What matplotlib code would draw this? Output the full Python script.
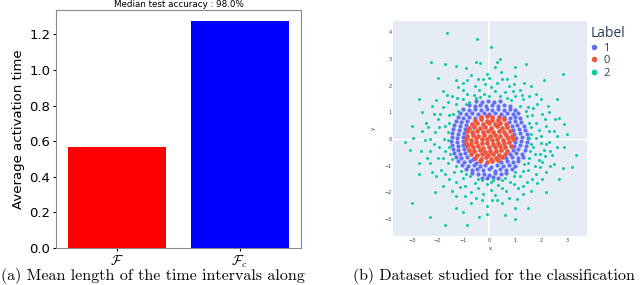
import numpy as np
import matplotlib
matplotlib.use("Agg")
import matplotlib.pyplot as plt

plt.rcParams['mathtext.fontset'] = 'cm'

# ---- left panel data ----
bar_labels = [r'$\mathcal{F}$', r'$\mathcal{F}_c$']
bar_values = [0.565, 1.274]
bar_colors = ['red', 'blue']
acc_title = 'Median test accuracy : 98.0%'

# ---- right panel data ----
red_pts = [
    (-0.35, -0.83), (-0.1, -0.87), (0.12, -0.84), (0.33, -0.8),
    (-0.55, -0.7), (-0.34, -0.75), (-0.12, -0.69), (0.08, -0.74), (0.27, -0.71), (0.5, -0.68),
    (-0.7, -0.56), (-0.48, -0.6), (-0.27, -0.55), (-0.05, -0.61), (0.16, -0.57), (0.38, -0.6), (0.6, -0.55),
    (-0.8, -0.42), (-0.6, -0.46), (-0.38, -0.41), (-0.18, -0.47), (0.04, -0.43), (0.25, -0.45), (0.46, -0.4), (0.68, -0.46),
    (-0.86, -0.27), (-0.65, -0.31), (-0.45, -0.26), (-0.24, -0.32), (-0.02, -0.28), (0.2, -0.3), (0.4, -0.25), (0.62, -0.31), (0.83, -0.27),
    (-0.9, -0.13), (-0.7, -0.17), (-0.5, -0.12), (-0.29, -0.16), (-0.08, -0.14), (0.13, -0.18), (0.34, -0.13), (0.55, -0.16), (0.76, -0.12),
    (-0.92, 0.02), (-0.72, -0.02), (-0.52, 0.03), (-0.3, -0.01), (-0.1, 0.02), (0.1, -0.03), (0.31, 0.01), (0.52, -0.02), (0.73, 0.03), (0.9, -0.01),
    (-0.86, 0.12), (-0.64, 0.16), (-0.42, 0.11), (-0.2, 0.17), (0.02, 0.13), (0.22, 0.15), (0.43, 0.1), (0.64, 0.16), (0.86, 0.13),
    (-0.88, 0.3), (-0.68, 0.26), (-0.47, 0.31), (-0.26, 0.27), (-0.05, 0.32), (0.16, 0.28), (0.37, 0.3), (0.58, 0.26), (0.8, 0.31),
    (-0.8, 0.42), (-0.58, 0.46), (-0.36, 0.41), (-0.15, 0.45), (0.06, 0.43), (0.28, 0.47), (0.49, 0.42), (0.7, 0.45),
    (-0.68, 0.56), (-0.46, 0.6), (-0.24, 0.55), (-0.02, 0.59), (0.2, 0.57), (0.42, 0.61), (0.64, 0.56),
    (-0.56, 0.7), (-0.33, 0.74), (-0.1, 0.69), (0.12, 0.73), (0.34, 0.7), (0.55, 0.75),
    (-0.32, 0.83), (-0.1, 0.87), (0.12, 0.84), (0.36, 0.81),
]

blue_pts = [
    (-0.3, -1.44), (-0.08, -1.47), (0.15, -1.43), (0.34, -1.46),
    (-0.68, -1.28), (-0.45, -1.32), (-0.22, -1.29), (0.0, -1.33), (0.22, -1.28), (0.45, -1.31), (0.66, -1.27),
    (-0.9, -1.13), (-0.68, -1.17), (-0.46, -1.12), (-0.24, -1.16), (-0.02, -1.14), (0.2, -1.18), (0.42, -1.13), (0.64, -1.16), (0.86, -1.12),
    (-1.05, -0.98), (-0.83, -1.02), (-0.6, -0.97), (-0.38, -1.01), (-0.15, -0.99), (0.07, -1.03), (0.3, -0.98), (0.52, -1.02), (0.75, -0.97), (0.98, -1.01),
    (-1.2, -0.84), (-0.98, -0.87), (-0.75, -0.83), (-0.52, -0.88), (0.45, -0.86), (0.68, -0.83), (0.9, -0.87), (1.12, -0.84),
    (-1.3, -0.69), (-1.08, -0.72), (-0.85, -0.68), (-0.65, -0.73), (0.66, -0.71), (0.88, -0.68), (1.1, -0.72), (1.3, -0.69),
    (-1.38, -0.54), (-1.15, -0.57), (-0.93, -0.53), (0.8, -0.56), (1.02, -0.53), (1.25, -0.57),
    (-1.42, -0.39), (-1.2, -0.42), (-0.98, -0.38), (0.9, -0.41), (1.12, -0.38), (1.36, -0.42),
    (-1.45, -0.24), (-1.22, -0.27), (-1.0, -0.23), (0.95, -0.26), (1.18, -0.23), (1.42, -0.27),
    (-1.48, -0.09), (-1.25, -0.12), (-1.02, -0.08), (1.0, -0.11), (1.22, -0.08), (1.46, -0.12),
    (-1.46, 0.06), (-1.23, 0.03), (-1.0, 0.07), (1.02, 0.04), (1.25, 0.07), (1.48, 0.03),
    (-1.44, 0.21), (-1.2, 0.18), (-0.98, 0.22), (0.96, 0.19), (1.2, 0.22), (1.45, 0.18),
    (-1.4, 0.36), (-1.17, 0.33), (-0.95, 0.37), (0.92, 0.34), (1.15, 0.37), (1.38, 0.33),
    (-1.36, 0.51), (-1.12, 0.48), (-0.9, 0.52), (0.86, 0.49), (1.08, 0.52), (1.32, 0.48),
    (-1.3, 0.66), (-1.08, 0.63), (-0.86, 0.67), (0.75, 0.64), (0.98, 0.67), (1.22, 0.63),
    (-1.22, 0.81), (-1.0, 0.78), (-0.78, 0.82), (-0.56, 0.79), (0.55, 0.82), (0.78, 0.79), (1.0, 0.83), (1.2, 0.8),
    (-1.12, 0.96), (-0.9, 0.93), (-0.67, 0.97), (-0.45, 0.94), (-0.22, 0.98), (0.0, 0.95), (0.22, 0.97), (0.45, 0.93), (0.68, 0.96), (0.9, 0.94), (1.1, 0.97),
    (-1.0, 1.11), (-0.78, 1.08), (-0.55, 1.12), (-0.33, 1.09), (-0.1, 1.13), (0.12, 1.1), (0.35, 1.12), (0.57, 1.08), (0.8, 1.11), (1.0, 1.09),
    (-0.8, 1.26), (-0.57, 1.23), (-0.35, 1.27), (-0.12, 1.24), (0.1, 1.28), (0.32, 1.25), (0.55, 1.27), (0.78, 1.23),
    (-0.5, 1.41), (-0.27, 1.38), (-0.05, 1.42), (0.18, 1.39), (0.4, 1.41),
]

green_pts = [
    (1.6, 0.2), (1.7, -0.3), (1.8, 0.6), (1.65, 0.9), (1.9, -0.8), (2.0, 0.1), (2.1, -0.4), (1.75, -1.0),
    (1.5, 1.2), (1.3, 1.5), (1.0, 1.6), (0.6, 1.75), (0.2, 1.8), (-0.2, 1.7), (-0.6, 1.65), (-1.0, 1.5),
    (-1.3, 1.3), (-1.55, 0.9), (-1.7, 0.5), (-1.75, 0.0), (-1.7, -0.45), (-1.6, -0.9), (-1.35, -1.25),
    (-1.0, -1.45), (-0.55, -1.65), (-0.1, -1.7), (0.35, -1.72), (0.8, -1.6), (1.2, -1.4), (1.5, -1.15),
    (2.2, 0.5), (2.05, 0.95), (1.85, 1.3), (1.55, 1.6), (1.2, 1.85), (0.75, 2.0), (0.3, 2.1), (-0.15, 2.05),
    (-0.55, 2.0), (-1.0, 1.85), (-1.45, 1.6), (-1.8, 1.2), (-2.0, 0.75), (-2.1, 0.25), (-2.15, -0.2),
    (-2.0, -0.7), (-1.85, -1.15), (-1.55, -1.5), (-1.15, -1.8), (-0.7, -2.0), (-0.25, -2.05), (0.2, -2.1),
    (0.65, -1.95), (1.1, -1.85), (1.45, -1.6), (1.8, -1.3), (2.05, -0.85), (2.2, -0.2),
    (1.8, 0.05), (1.75, -0.55), (1.55, -0.7), (1.62, 0.45), (1.4, 1.05), (0.85, 1.45), (0.4, 1.6),
    (-0.35, 1.58), (-0.8, 1.4), (-1.2, 1.05), (-1.6, 0.25), (-1.55, -0.3), (-1.45, -0.75), (-1.1, -1.2),
    (-0.75, -1.4), (-0.3, -1.55), (0.15, -1.55), (0.6, -1.45), (1.0, -1.25), (1.35, -0.95),
    (2.5, 0.3), (2.4, -0.6), (2.3, 1.0), (2.0, 1.5), (1.6, 2.0), (1.0, 2.35), (0.45, 2.5), (-0.1, 2.45),
    (-0.7, 2.4), (-1.3, 2.2), (-1.8, 1.8), (-2.2, 1.25), (-2.45, 0.6), (-2.5, -0.05), (-2.4, -0.7),
    (-2.2, -1.25), (-1.8, -1.75), (-1.3, -2.15), (-0.7, -2.4), (-0.1, -2.5), (0.5, -2.4), (1.05, -2.25),
    (1.6, -1.95), (2.05, -1.5), (2.35, -1.0),
    (3.0, 0.2), (2.85, -1.1), (2.6, 1.5), (2.1, 2.2), (1.4, 2.8), (0.4, 3.0), (-0.5, 2.9), (-1.3, 2.75),
    (-2.0, 2.3), (-2.7, 1.5), (-3.0, 0.5), (-3.05, -0.4), (-2.7, -1.3), (-2.1, -2.0), (-1.3, -2.6),
    (-0.4, -2.9), (0.6, -2.85), (1.5, -2.6), (2.2, -2.0), (2.7, -1.5),
    (-1.65, 3.97), (-0.46, 3.75), (0.08, 3.44), (-2.27, 2.9), (-1.7, 2.8), (-0.35, 2.85), (0.3, 2.9),
    (2.85, 2.43), (-2.3, -2.93), (-1.7, -3.2), (-0.85, -3.2), (1.0, -3.0), (-3.0, -2.4), (-3.27, -0.1),
    (3.35, -0.6), (3.2, -1.05),
    (1.9, 0.35), (2.3, -0.1), (1.95, -0.55), (2.15, 0.75), (1.7, 1.15), (1.25, 1.65), (0.9, 1.8),
    (0.05, 1.95), (-0.4, 1.85), (-0.85, 1.7), (-1.25, 1.55), (-1.6, 1.4), (-1.9, 0.95), (-1.95, 0.45),
    (-1.95, -0.3), (-1.8, -0.7), (-1.7, -1.3), (-1.3, -1.6), (-0.95, -1.75), (-0.45, -1.85), (0.05, -1.9),
    (0.5, -1.85), (0.95, -1.7), (1.3, -1.75), (1.65, -1.5), (1.95, -1.05), (2.0, -0.15), (2.6, -0.3),
    (-2.3, 0.0), (-2.3, -0.45), (-2.6, 0.3), (0.0, 2.3), (0.7, 2.25), (-0.45, 2.25),
    (-0.3, -2.3), (0.3, -2.3), (-2.7, -0.9), (2.7, 0.8), (-1.0, 2.1),
    (1.55, 0.05), (1.58, -0.45), (1.52, 0.6), (1.45, 0.85), (1.2, 1.25), (0.7, 1.55), (0.0, 1.62),
    (-0.5, 1.52), (-0.9, 1.3), (-1.4, 0.95), (-1.56, 0.6), (-1.6, -0.05), (-1.52, -0.55), (-1.3, -1.0),
    (-0.9, -1.3), (-0.45, -1.5), (0.05, -1.6), (0.5, -1.55), (0.95, -1.4), (1.3, -1.2), (1.5, -0.9),
    (1.62, -0.2), (2.3, 0.3), (2.15, -0.65), (2.35, -0.45), (2.25, 1.25), (1.8, 1.7), (1.35, 2.1),
    (0.95, 2.05), (0.5, 2.25), (-0.25, 2.25), (-0.85, 2.2), (-1.2, 1.95), (-1.65, 1.65), (-2.05, 1.45),
    (-2.15, 0.95), (-2.35, 0.45), (-2.3, -0.9), (-2.05, -1.4), (-1.45, -1.95), (-0.95, -2.15),
    (-0.5, -2.2), (0.1, -2.3), (0.75, -2.2), (1.3, -2.05), (1.85, -1.65), (2.2, -1.25), (2.5, -0.95),
    (2.6, 0.1), (2.55, 0.75), (-2.65, -0.45), (-2.6, 1.0), (0.2, 2.7), (-0.9, 2.65), (1.0, 2.7),
    (-0.1, -2.8), (-1.0, -2.75), (1.0, -2.6), (2.9, -0.3), (2.9, 0.55), (-2.95, 0.05),
]

# legend order as in the reference: 1, 0, 2
classes = [('1', blue_pts, '#636EFA', 3.0), ('0', red_pts, '#EF553B', 3.4), ('2', green_pts, '#00CC96', 2.1)]
x_ticks = [-3, -2, -1, 0, 1, 2, 3]
y_ticks = [-3, -2, -1, 0, 1, 2, 3, 4]

W, H = 640, 285
fig = plt.figure(figsize=(W / 100, H / 100), dpi=100)

# ---------- left: bar chart ----------
ax1 = fig.add_axes([56 / W, 1 - 248 / H, 245 / W, 238.5 / H])
ax1.bar(range(len(bar_values)), bar_values, color=bar_colors, width=0.8)
ax1.set_xlim(-0.5, 1.5)
ax1.set_ylim(0, 1.34)
ax1.set_xticks(range(len(bar_labels)))
ax1.set_xticklabels(bar_labels, fontsize=10)
ax1.set_yticks([0.0, 0.2, 0.4, 0.6, 0.8, 1.0, 1.2])
ax1.tick_params(axis='y', labelsize=9.5, length=2.5, pad=1.5)
ax1.tick_params(axis='x', length=2.5, pad=1.5)
ax1.set_ylabel('Average activation time', fontsize=9.5, labelpad=3)
ax1.set_title(acc_title, fontsize=6.3, pad=1.5)
for s in ax1.spines.values():
    s.set_color('#888888')
    s.set_linewidth(0.8)

# ---------- right: scatter ----------
ax2 = fig.add_axes([393 / W, 1 - 236 / H, 194 / W, 215 / H])
ax2.set_facecolor('#E5ECF6')
ax2.axhline(0, color='white', lw=1.0, zorder=0)
ax2.axvline(0, color='white', lw=1.2, zorder=0)
handles = []
for lab, pts, col, ms in classes:
    arr = np.array(pts)
    h, = ax2.plot(arr[:, 0], arr[:, 1], 'o', ms=ms, color=col, mec='none', label=lab)
    handles.append(h)
ax2.set_xlim(-3.72, 3.77)
ax2.set_ylim(-3.63, 4.42)
ax2.set_xticks(x_ticks)
ax2.set_yticks(y_ticks)
ax2.tick_params(axis='x', length=0, labelsize=3.5, labelcolor='#2a3f5f', pad=1.5)
ax2.tick_params(axis='y', length=0, labelsize=3.5, labelcolor='#2a3f5f', pad=1)
ax2.set_xlabel('x', fontsize=4, color='#2a3f5f', labelpad=2)
ax2.set_ylabel('y', fontsize=4, color='#2a3f5f', labelpad=6, rotation=90)
for s in ax2.spines.values():
    s.set_visible(False)

leg = ax2.legend(handles=handles, title='Label', loc='upper left',
                 bbox_to_anchor=(591 / W, 1 - 26 / H), bbox_transform=fig.transFigure,
                 frameon=False, title_fontsize=10, handlelength=0.6,
                 handletextpad=0.5, labelspacing=0.15, borderpad=0, borderaxespad=0,
                 alignment='left', prop={'family': 'Open Sans', 'size': 8})
for lh in leg.legend_handles:
    lh.set_markersize(4)
leg.get_title().set_family('Open Sans')
leg.get_title().set_color('#2a3f5f')
for t in leg.get_texts():
    t.set_color('#2a3f5f')

# ---------- captions ----------
fig.text(1 / W, 0.5 / H, '(a) Mean length of the time intervals along',
         va='bottom', ha='left', fontsize=11.5, family='cmr10')
fig.text(353 / W, 0.5 / H, '(b) Dataset studied for the classification',
         va='bottom', ha='left', fontsize=11.5, family='cmr10')

fig.savefig('out.png', dpi=100)
